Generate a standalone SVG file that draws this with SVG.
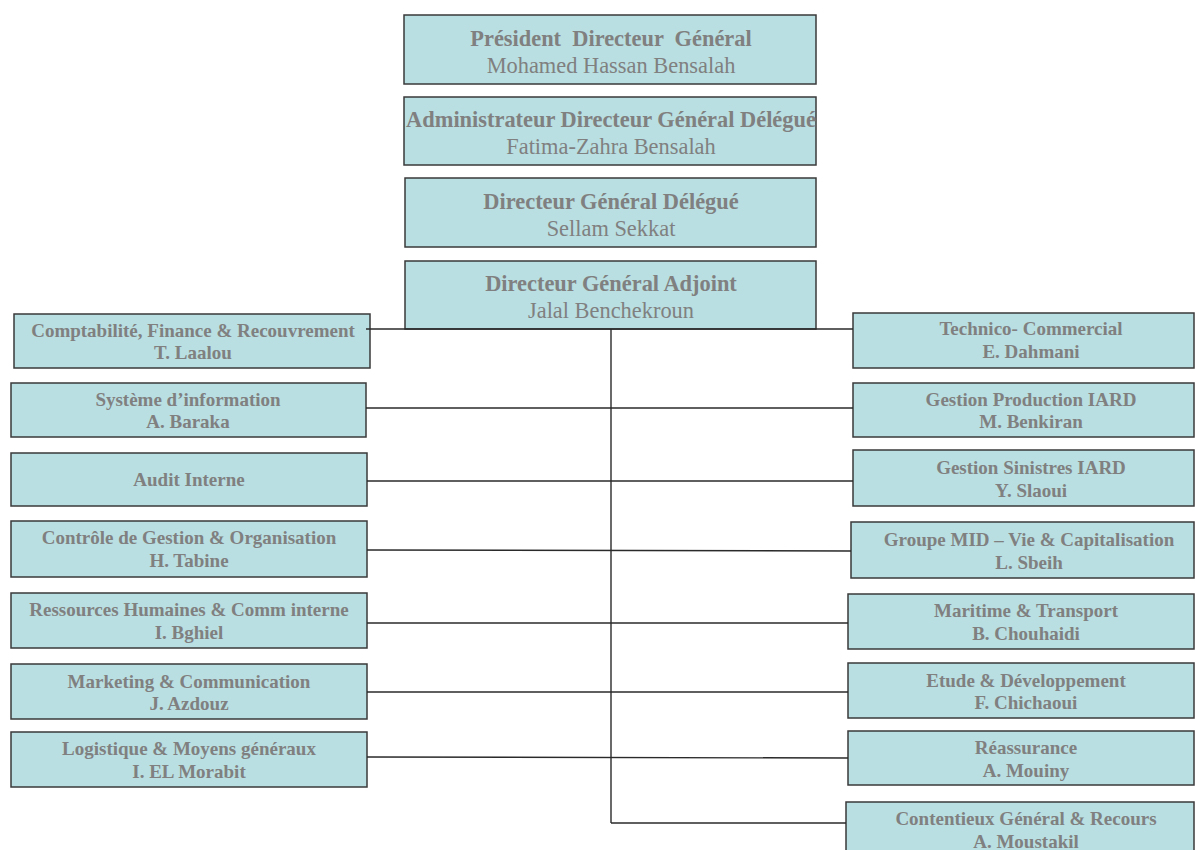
<svg xmlns="http://www.w3.org/2000/svg" width="1195" height="850" viewBox="0 0 1195 850">
<style>
.box{fill:#b9dfe2;stroke:#3a3a3a;stroke-width:1.5}
.t{font-family:"Liberation Serif",serif;fill:#808080;text-anchor:middle}
.big{font-size:22.4px}
.sm{font-size:19px;font-weight:bold}
.b{font-weight:bold}
.c{stroke:#2a2a2a;stroke-width:1.4;fill:none}
</style>
<rect width="1195" height="850" fill="#fff"/>
<g id="pdg"><rect class="box" x="404" y="15" width="412" height="69"/>
<text class="t big b" x="611" y="46" xml:space="preserve">Président  Directeur  Général</text>
<text class="t big" x="611" y="73">Mohamed Hassan Bensalah</text></g>
<g id="addg"><rect class="box" x="404" y="97" width="412" height="68"/>
<text class="t big b" x="611" y="127">Administrateur Directeur Général Délégué</text>
<text class="t big" x="611" y="154">Fatima-Zahra Bensalah</text></g>
<g id="dgd"><rect class="box" x="405" y="178" width="411" height="69"/>
<text class="t big b" x="611" y="209">Directeur Général Délégué</text>
<text class="t big" x="611" y="236">Sellam Sekkat</text></g>
<g id="dga"><rect class="box" x="405" y="261" width="411" height="68"/>
<text class="t big b" x="611" y="291">Directeur Général Adjoint</text>
<text class="t big" x="611" y="318">Jalal Benchekroun</text></g>

<g id="compta"><rect class="box" x="14" y="314" width="356" height="54"/>
<text class="t sm" x="193" y="337">Comptabilité, Finance &amp; Recouvrement</text>
<text class="t sm" x="193" y="359">T. Laalou</text></g>
<g id="si"><rect class="box" x="11" y="383" width="355" height="54"/>
<text class="t sm" x="188" y="406">Système d’information</text>
<text class="t sm" x="188" y="428">A. Baraka</text></g>
<g id="audit"><rect class="box" x="11" y="453" width="356" height="53"/>
<text class="t sm" x="189" y="486">Audit Interne</text></g>
<g id="cdg"><rect class="box" x="11" y="521" width="356" height="56"/>
<text class="t sm" x="189" y="544">Contrôle de Gestion &amp; Organisation</text>
<text class="t sm" x="189" y="567">H. Tabine</text></g>
<g id="rh"><rect class="box" x="11" y="593" width="356" height="55"/>
<text class="t sm" x="189" y="616">Ressources Humaines &amp; Comm interne</text>
<text class="t sm" x="189" y="639">I. Bghiel</text></g>
<g id="mkt"><rect class="box" x="11" y="664" width="356" height="55"/>
<text class="t sm" x="189" y="688">Marketing &amp; Communication</text>
<text class="t sm" x="189" y="710">J. Azdouz</text></g>
<g id="log"><rect class="box" x="11" y="732" width="356" height="55"/>
<text class="t sm" x="189" y="755">Logistique &amp; Moyens généraux</text>
<text class="t sm" x="189" y="778">I. EL Morabit</text></g>

<g id="tech"><rect class="box" x="853" y="313" width="341" height="55"/>
<text class="t sm" x="1031" y="335">Technico- Commercial</text>
<text class="t sm" x="1031" y="358">E. Dahmani</text></g>
<g id="gprod"><rect class="box" x="853" y="383" width="341" height="54"/>
<text class="t sm" x="1031" y="406">Gestion Production IARD</text>
<text class="t sm" x="1031" y="428">M. Benkiran</text></g>
<g id="gsin"><rect class="box" x="853" y="450" width="341" height="56"/>
<text class="t sm" x="1031" y="474">Gestion Sinistres IARD</text>
<text class="t sm" x="1031" y="497">Y. Slaoui</text></g>
<g id="mid"><rect class="box" x="851" y="522" width="343" height="56"/>
<text class="t sm" x="1029" y="546">Groupe MID – Vie &amp; Capitalisation</text>
<text class="t sm" x="1029" y="569">L. Sbeih</text></g>
<g id="mar"><rect class="box" x="848" y="594" width="346" height="55"/>
<text class="t sm" x="1026" y="617">Maritime &amp; Transport</text>
<text class="t sm" x="1026" y="640">B. Chouhaidi</text></g>
<g id="etude"><rect class="box" x="848" y="663" width="346" height="55"/>
<text class="t sm" x="1026" y="687">Etude &amp; Développement</text>
<text class="t sm" x="1026" y="709">F. Chichaoui</text></g>
<g id="reass"><rect class="box" x="848" y="731" width="346" height="54"/>
<text class="t sm" x="1026" y="754">Réassurance</text>
<text class="t sm" x="1026" y="777">A. Mouiny</text></g>
<g id="cont"><rect class="box" x="846" y="802" width="348" height="60"/>
<text class="t sm" x="1026" y="825">Contentieux Général &amp; Recours</text>
<text class="t sm" x="1026" y="848">A. Moustakil</text></g>

<g id="connectors" class="c">
<line x1="611" y1="329" x2="611" y2="823"/>
<line x1="366" y1="329" x2="853" y2="329"/>
<line x1="366" y1="408" x2="853" y2="408"/>
<line x1="367" y1="481" x2="853" y2="481"/>
<line x1="367" y1="550" x2="851" y2="551"/>
<line x1="367" y1="623" x2="848" y2="623"/>
<line x1="367" y1="692" x2="848" y2="692"/>
<line x1="367" y1="757" x2="848" y2="758"/>
<line x1="611" y1="823" x2="846" y2="823"/>
</g>
</svg>
